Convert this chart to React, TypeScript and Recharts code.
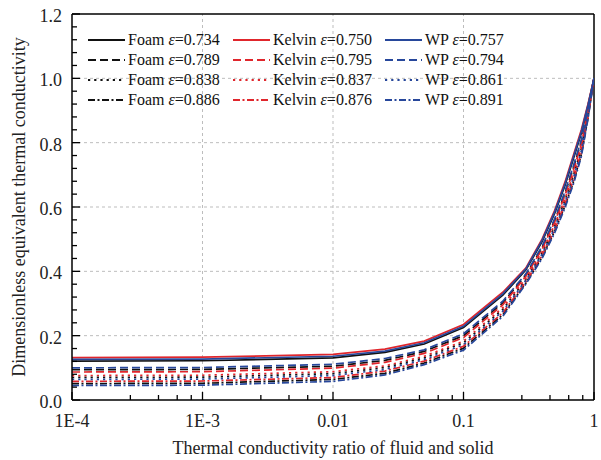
import React from "react"
import { LineChart, Line, XAxis, YAxis, ReferenceLine, Legend } from "recharts"

const FONT = "Liberation Serif, Times New Roman, serif"

// thermal conductivity ratio (fluid / solid)
const ratios = [0.0001, 0.001, 0.01, 0.025, 0.05, 0.1, 0.2, 0.3, 0.4, 0.5, 0.6, 0.7, 0.8, 0.9, 1]

// dimensionless equivalent thermal conductivity
const foam734 = [0.121, 0.122, 0.131, 0.148, 0.174, 0.225, 0.326, 0.404, 0.492, 0.581, 0.668, 0.754, 0.83, 0.914, 1]
const foam789 = [0.094, 0.095, 0.105, 0.123, 0.151, 0.2, 0.302, 0.388, 0.474, 0.559, 0.643, 0.726, 0.804, 0.9, 1]
const foam838 = [0.07, 0.071, 0.082, 0.101, 0.131, 0.178, 0.282, 0.374, 0.457, 0.54, 0.621, 0.701, 0.781, 0.888, 1]
const foam886 = [0.051, 0.052, 0.064, 0.083, 0.115, 0.161, 0.265, 0.363, 0.444, 0.525, 0.604, 0.681, 0.763, 0.878, 1]

const kelvin750 = [0.132, 0.133, 0.142, 0.158, 0.183, 0.235, 0.335, 0.41, 0.5, 0.59, 0.678, 0.765, 0.84, 0.92, 1]
const kelvin795 = [0.087, 0.088, 0.099, 0.117, 0.145, 0.194, 0.296, 0.384, 0.469, 0.554, 0.637, 0.718, 0.797, 0.897, 1]
const kelvin837 = [0.076, 0.077, 0.088, 0.106, 0.136, 0.183, 0.287, 0.378, 0.461, 0.545, 0.626, 0.707, 0.787, 0.891, 1]
const kelvin876 = [0.058, 0.059, 0.07, 0.09, 0.121, 0.167, 0.271, 0.367, 0.449, 0.53, 0.61, 0.688, 0.769, 0.882, 1]

const wp757 = [0.126, 0.127, 0.136, 0.152, 0.178, 0.229, 0.33, 0.407, 0.496, 0.585, 0.672, 0.759, 0.834, 0.917, 1]
const wp794 = [0.1, 0.101, 0.111, 0.129, 0.156, 0.206, 0.307, 0.392, 0.478, 0.564, 0.649, 0.732, 0.809, 0.903, 1]
const wp861 = [0.064, 0.065, 0.076, 0.095, 0.126, 0.172, 0.276, 0.371, 0.453, 0.535, 0.615, 0.695, 0.775, 0.885, 1]
const wp891 = [0.045, 0.046, 0.058, 0.078, 0.11, 0.155, 0.26, 0.36, 0.44, 0.52, 0.598, 0.675, 0.757, 0.875, 1]

// axis ticks
const xMajorTicks = [0.0001, 0.001, 0.01, 0.1, 1]
const xMajorLabels = ["1E-4", "1E-3", "0.01", "0.1", "1"]
const xMinorSteps = [2.8, 4.6, 6.4, 8.2] // Origin-style evenly spaced minors
const yMajorTicks = [0, 0.2, 0.4, 0.6, 0.8, 1.0, 1.2]
const yMajorLabels = ["0.0", "0.2", "0.4", "0.6", "0.8", "1.0", "1.2"]
const yMinorTicks = [
  0.04, 0.08, 0.12, 0.16, 0.24, 0.28, 0.32, 0.36, 0.44, 0.48, 0.52, 0.56,
  0.64, 0.68, 0.72, 0.76, 0.84, 0.88, 0.92, 0.96, 1.04, 1.08, 1.12, 1.16,
]

const xMinorTicks = xMajorTicks.slice(0, -1).flatMap(t => xMinorSteps.map(m => t * m))
const xTicks = [...xMajorTicks, ...xMinorTicks].sort((a, b) => a - b)
const yTicks = [...yMajorTicks, ...yMinorTicks].sort((a, b) => a - b)

const BLACK = "#111111"
const RED = "#e0262c"
const BLUE = "#27479b"

const SOLID = undefined
const DASHED = "8 4"
const DOTTED = "2.2 4"
const DASHDOT = "7 2.5 2 2.5"

type Series = { key: string; label: string; eps: string; values: number[]; color: string; dash?: string }

const series: Series[] = [
  { key: "foam734", label: "Foam", eps: "0.734", values: foam734, color: BLACK, dash: SOLID },
  { key: "foam789", label: "Foam", eps: "0.789", values: foam789, color: BLACK, dash: DASHED },
  { key: "foam838", label: "Foam", eps: "0.838", values: foam838, color: BLACK, dash: DOTTED },
  { key: "foam886", label: "Foam", eps: "0.886", values: foam886, color: BLACK, dash: DASHDOT },
  { key: "kelvin750", label: "Kelvin", eps: "0.750", values: kelvin750, color: RED, dash: SOLID },
  { key: "kelvin795", label: "Kelvin", eps: "0.795", values: kelvin795, color: RED, dash: DASHED },
  { key: "kelvin837", label: "Kelvin", eps: "0.837", values: kelvin837, color: RED, dash: DOTTED },
  { key: "kelvin876", label: "Kelvin", eps: "0.876", values: kelvin876, color: RED, dash: DASHDOT },
  { key: "wp757", label: "WP", eps: "0.757", values: wp757, color: BLUE, dash: SOLID },
  { key: "wp794", label: "WP", eps: "0.794", values: wp794, color: BLUE, dash: DASHED },
  { key: "wp861", label: "WP", eps: "0.861", values: wp861, color: BLUE, dash: DOTTED },
  { key: "wp891", label: "WP", eps: "0.891", values: wp891, color: BLUE, dash: DASHDOT },
]

const data = ratios.map((r, i) => {
  const row: Record<string, number> = { r }
  series.forEach(s => { row[s.key] = s.values[i] })
  return row
})

const near = (a: number, b: number) => Math.abs(a - b) < 1e-9 + Math.abs(b) * 1e-6

// bottom axis tick: inward tick mark, label only on decades
function XTick({ x, y, payload }: any) {
  const idx = xMajorTicks.findIndex(t => near(payload.value, t))
  const major = idx >= 0
  return (
    <g>
      <line x1={x} x2={x} y1={y} y2={y - (major ? 8 : 5)} stroke="#000" strokeWidth={1.3} />
      {major && (
        <text x={x} y={y + 26.5} textAnchor="middle" fontSize={18} style={{ fontFamily: FONT }} fill="#222">
          {xMajorLabels[idx]}
        </text>
      )}
    </g>
  )
}

function YTick({ x, y, payload }: any) {
  const idx = yMajorTicks.findIndex(t => near(payload.value, t))
  const major = idx >= 0
  return (
    <g>
      <line x1={x} x2={x + (major ? 8 : 5)} y1={y} y2={y} stroke="#000" strokeWidth={1.3} />
      {major && (
        <text x={x - 10} y={y + 8} textAnchor="end" fontSize={18} style={{ fontFamily: FONT }} fill="#222">
          {yMajorLabels[idx]}
        </text>
      )}
    </g>
  )
}

function LegendBox() {
  return (
    <div
      style={{
        display: "grid",
        gridTemplateColumns: "145px 152px 150px",
        gridTemplateRows: "repeat(4, 20px)",
        gridAutoFlow: "column",
        fontFamily: FONT,
        fontSize: 16,
        color: "#111",
      }}
    >
      {series.map(s => (
        <div key={s.key} style={{ display: "flex", alignItems: "center", whiteSpace: "nowrap", lineHeight: "20px" }}>
          <svg width={37} height={10} style={{ marginRight: 3 }}>
            <line x1={0} x2={37} y1={5} y2={5} stroke={s.color} strokeWidth={2} strokeDasharray={s.dash} />
          </svg>
          <span>
            {s.label} <i>ε</i>={s.eps}
          </span>
        </div>
      ))}
    </div>
  )
}

const gridX = [0.001, 0.01, 0.1]
const gridY = [0.2, 0.4, 0.6, 0.8, 1.0]

export default function App() {
  return (
    <div style={{ position: "absolute", left: 0, top: 0, width: 601, height: 460, background: "#fff", fontFamily: FONT }}>
      <LineChart width={601} height={460} data={data} margin={{ top: 14, right: 7, bottom: 0, left: 0 }}>
        <XAxis
          dataKey="r"
          type="number"
          scale="log"
          domain={[0.0001, 1]}
          allowDataOverflow
          ticks={xTicks}
          interval={0}
          tick={<XTick />}
          tickLine={false}
          tickSize={0}
          tickMargin={0}
          height={60}
          axisLine={{ stroke: "#000", strokeWidth: 1.5 }}
          label={{
            value: "Thermal conductivity ratio of fluid and solid",
            position: "insideBottom",
            offset: 6,
            fontSize: 18,
            fill: "#222",
            style: { fontFamily: FONT },
          }}
        />
        <YAxis
          type="number"
          domain={[0, 1.2]}
          ticks={yTicks}
          interval={0}
          tick={<YTick />}
          tickLine={false}
          tickSize={0}
          tickMargin={0}
          width={72}
          axisLine={{ stroke: "#000", strokeWidth: 1.5 }}
          label={{
            value: "Dimensionless equivalent thermal conductivity",
            angle: -90,
            position: "insideLeft",
            offset: 19,
            fontSize: 18,
            fill: "#222",
            style: { textAnchor: "middle", fontFamily: FONT },
          }}
        />

        {gridX.map(v => (
          <ReferenceLine key={"gx" + v} x={v} stroke="#bdbdbd" strokeDasharray="3 3" strokeWidth={1} />
        ))}
        {gridY.map(v => (
          <ReferenceLine key={"gy" + v} y={v} stroke="#bdbdbd" strokeDasharray="3 3" strokeWidth={1} />
        ))}
        {/* frame: top and right edges */}
        <ReferenceLine y={1.2} stroke="#000" strokeWidth={1.5} />
        <ReferenceLine x={1} stroke="#000" strokeWidth={1.5} />

        {series.map(s => (
          <Line
            key={s.key}
            dataKey={s.key}
            name={`${s.label} ε=${s.eps}`}
            type="linear"
            stroke={s.color}
            strokeWidth={1.7}
            strokeDasharray={s.dash}
            dot={false}
            activeDot={false}
            isAnimationActive={false}
          />
        ))}

        <Legend
          layout="horizontal"
          verticalAlign="middle"
          align="center"
          wrapperStyle={{ left: 88, top: 30, width: 460, height: 82 }}
          content={() => <LegendBox />}
        />
      </LineChart>
    </div>
  )
}
